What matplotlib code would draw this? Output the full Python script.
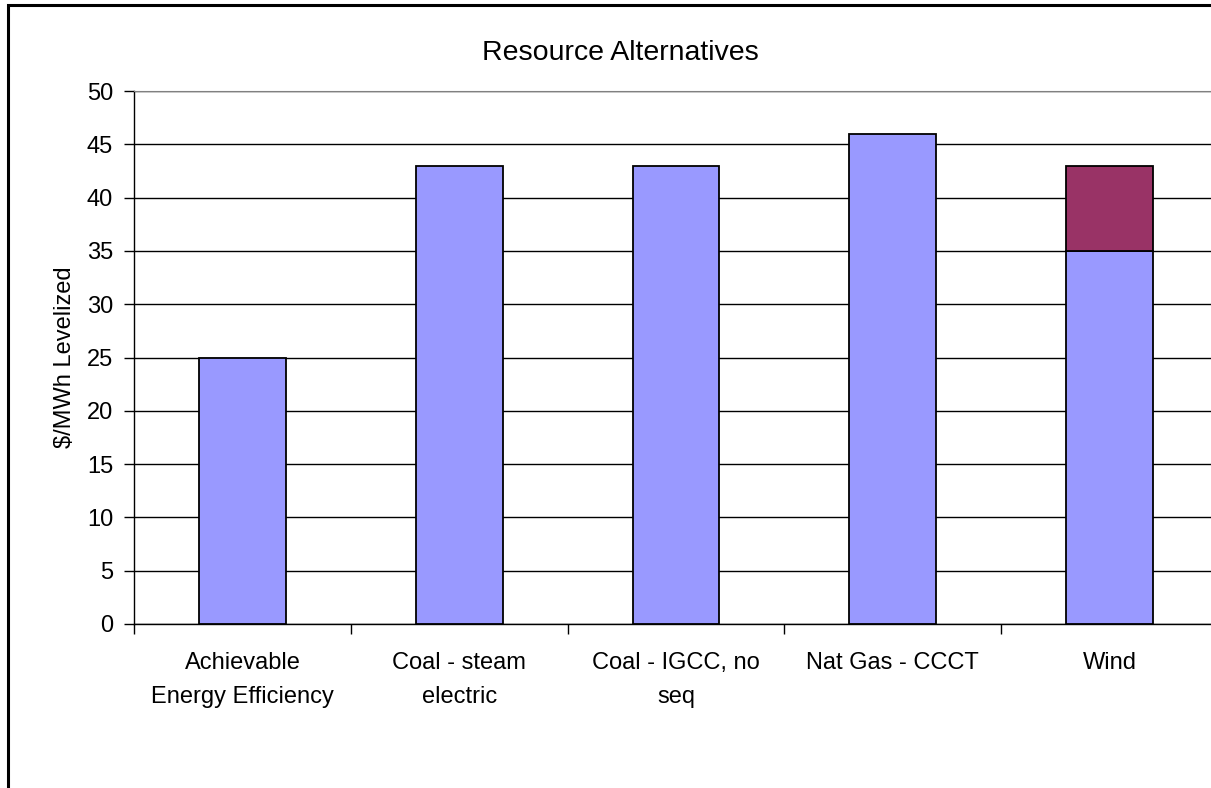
import matplotlib
matplotlib.use("Agg")
import matplotlib.pyplot as plt
from matplotlib.patches import Rectangle
import numpy as np

plt.rcParams['font.family'] = ['Liberation Sans', 'DejaVu Sans']

categories = ["Achievable\nEnergy Efficiency", "Coal - steam\nelectric",
              "Coal - IGCC, no\nseq", "Nat Gas - CCCT", "Wind"]
base_cost = [25, 43, 43, 46, 35]
extra_cost = [0, 0, 0, 0, 8]

W, H = 1211, 788
fig = plt.figure(figsize=(W / 100, H / 100), dpi=100)

# chart frame, left and top edges visible
fig.patches.append(Rectangle((8 / W, -0.1), 1.2, 1 - 5 / H + 0.1, transform=fig.transFigure,
                             facecolor='white', edgecolor='black', linewidth=2.2, zorder=-1))

ax = fig.add_axes([134 / W, 1 - 624 / H, (1218 - 134) / W, (624 - 91) / H])
x = np.arange(len(categories))
ax.bar(x, base_cost, width=0.4, color='#9999FF', edgecolor='black', linewidth=1.3, zorder=3)
ax.bar(x, extra_cost, width=0.4, bottom=base_cost, color='#993366', edgecolor='black',
       linewidth=1.3, zorder=3)
# hide the empty stacked segments
for p, v in zip(ax.patches[len(categories):], extra_cost):
    p.set_visible(v > 0)

ax.set_xlim(-0.5, len(categories) - 0.5)
ax.set_ylim(0, 50)
ax.set_yticks(range(0, 51, 5))
ax.yaxis.grid(True, color='black', linewidth=1.0, zorder=0)
ax.set_axisbelow(True)

ax.set_xticks(np.arange(-0.5, len(categories), 1.0))
ax.set_xticklabels([])
ax.set_xticks(x, minor=True)
ax.set_xticklabels(categories, minor=True, fontsize=17, linespacing=1.7)
ax.tick_params(axis='x', which='minor', length=0, pad=20.5)
ax.tick_params(axis='x', which='major', length=7, width=1, direction='out')
ax.tick_params(axis='y', length=7, width=1, labelsize=17, pad=8)

ax.spines['top'].set_color('#808080')
ax.spines['right'].set_visible(False)
ax.spines['left'].set_linewidth(1.0)
ax.spines['bottom'].set_linewidth(1.0)

ax.set_ylabel("$/MWh Levelized", fontsize=17, labelpad=8)
fig.text(620 / W, 1 - 53 / H, "Resource Alternatives", fontsize=20.5, ha='center', va='center')

fig.savefig("out.png", dpi=100)
